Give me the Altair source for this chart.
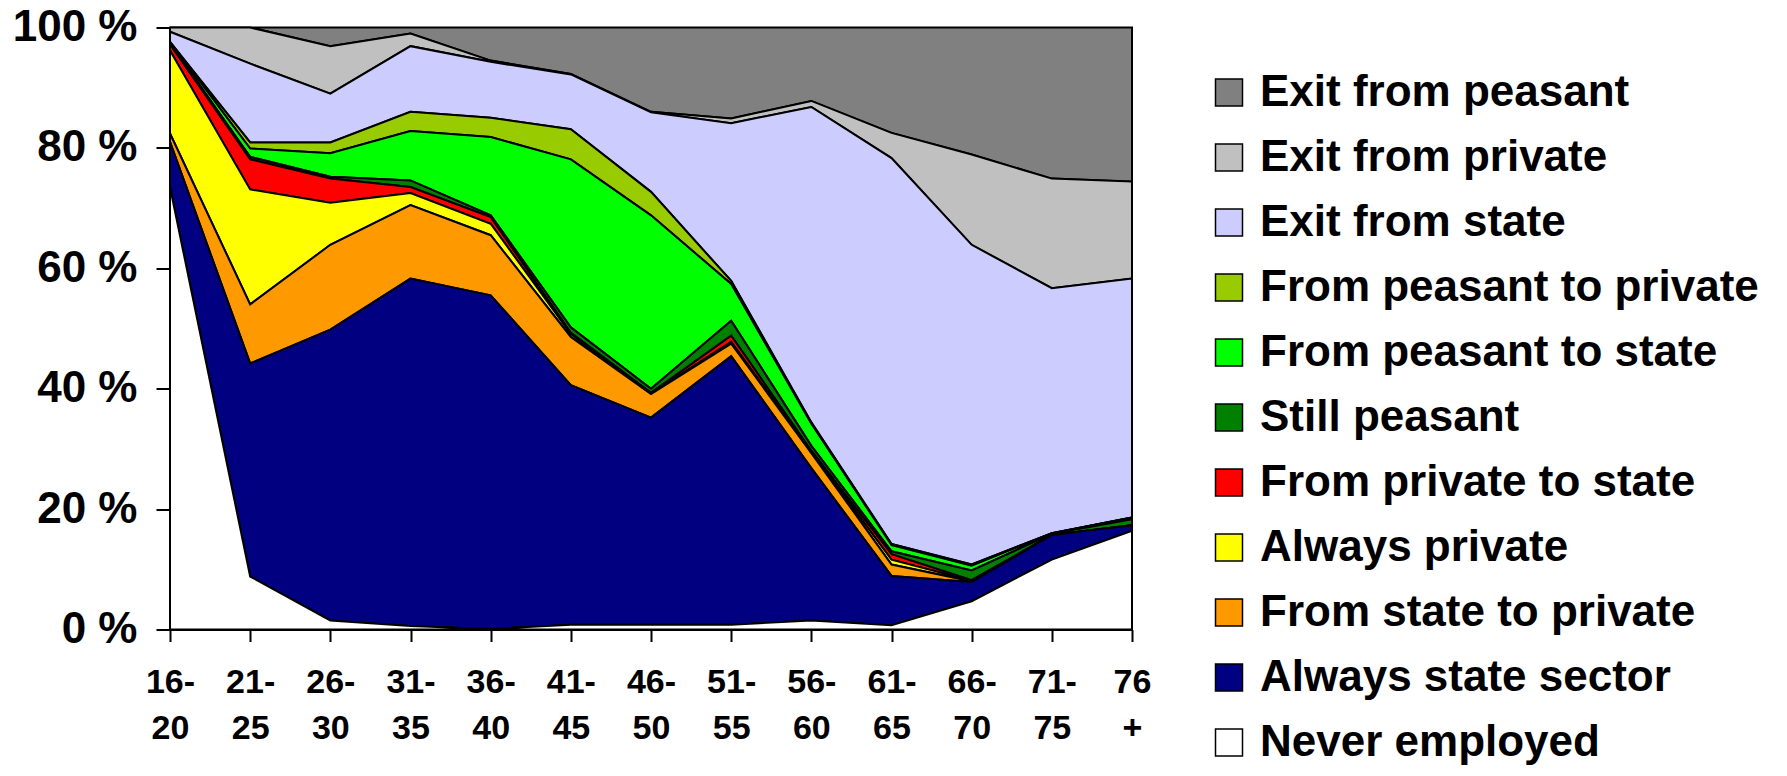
import altair as alt
import pandas as pd

age_groups = ["16-20", "21-25", "26-30", "31-35", "36-40", "41-45", "46-50",
              "51-55", "56-60", "61-65", "66-70", "71-75", "76+"]
label_top = ["16-", "21-", "26-", "31-", "36-", "41-", "46-", "51-", "56-", "61-", "66-", "71-", "76"]
label_bottom = ["20", "25", "30", "35", "40", "45", "50", "55", "60", "65", "70", "75", "+"]

# legend order (top to bottom); stacking is the reverse (bottom to top)
series_names = ["Exit from peasant", "Exit from private", "Exit from state",
                "From peasant to private", "From peasant to state", "Still peasant",
                "From private to state", "Always private", "From state to private",
                "Always state sector", "Never employed"]
series_colors = ["#808080", "#C0C0C0", "#CCCCFF", "#99CC00", "#00FF00", "#008000",
                 "#FF0000", "#FFFF00", "#FF9900", "#000080", "#FFFFFF"]

exit_peasant   = [0.0, 0.0, 3.1, 1.0, 5.5, 7.7, 14.0, 15.1, 12.2, 17.5, 21.1, 25.1, 25.6]
exit_private   = [0.7, 6.0, 7.9, 2.1, 0.2, 0.1, 0.1, 0.8, 1.0, 4.2, 15.0, 18.2, 16.1]
exit_state     = [1.7, 13.1, 8.1, 10.9, 9.3, 9.1, 13.2, 26.2, 52.4, 64.1, 53.1, 40.7, 39.7]
peas_to_priv   = [0.0, 1.0, 1.8, 3.2, 3.2, 5.0, 3.9, 0.5, 0.2, 0.2, 0.2, 0.0, 0.0]
peas_to_state  = [0.2, 1.4, 3.9, 8.2, 13.0, 27.9, 28.8, 6.1, 3.7, 1.0, 0.8, 0.1, 0.3]
still_peasant  = [0.2, 0.4, 0.3, 1.1, 0.3, 0.9, 0.7, 2.5, 0.8, 0.5, 1.6, 0.2, 1.0]
priv_to_state  = [1.0, 5.0, 4.0, 1.0, 1.1, 0.2, 0.1, 1.0, 0.2, 0.9, 0.1, 0.0, 0.0]
always_private = [13.8, 19.1, 7.0, 2.0, 1.9, 0.5, 0.1, 0.3, 0.2, 0.8, 0.1, 0.0, 0.0]
state_to_priv  = [1.4, 9.8, 14.1, 12.2, 10.0, 8.0, 3.9, 2.1, 2.5, 1.9, 0.1, 0.0, 0.0]
always_state   = [7.5, 35.4, 48.3, 57.7, 55.4, 39.8, 34.4, 44.6, 25.3, 8.2, 3.2, 4.1, 0.9]
never_employed = [73.5, 8.8, 1.5, 0.6, 0.1, 0.8, 0.8, 0.8, 1.5, 0.7, 4.7, 11.6, 16.4]

series_values = [exit_peasant, exit_private, exit_state, peas_to_priv, peas_to_state,
                 still_peasant, priv_to_state, always_private, state_to_priv,
                 always_state, never_employed]

rows = []
n = len(series_names)
for s_i, (name, vals) in enumerate(zip(series_names, series_values)):
    for i, v in enumerate(vals):
        rows.append({"idx": i, "age": age_groups[i], "series": name,
                     "value": v, "ord": n - 1 - s_i})
df = pd.DataFrame(rows)

label_js = "[" + ",".join("['%s','%s']" % (t, b) for t, b in zip(label_top, label_bottom)) + "]"
FONT = "Liberation Sans"

chart = alt.Chart(df).mark_area(
    stroke="black", strokeWidth=2, strokeJoin="miter", opacity=1
).encode(
    x=alt.X("idx:Q",
            scale=alt.Scale(domain=[0, len(age_groups) - 1], nice=False, zero=False),
            axis=alt.Axis(values=list(range(len(age_groups))),
                          labelExpr=label_js + "[datum.value]",
                          title=None, grid=False, labelFlush=False, labelOverlap=False,
                          labelFont=FONT, labelFontSize=34, labelFontWeight="bold",
                          labelColor="black", labelLineHeight=46, labelPadding=24,
                          tickSize=12, tickColor="black", tickWidth=2,
                          domainColor="black", domainWidth=2)),
    y=alt.Y("value:Q", stack="normalize",
            scale=alt.Scale(domain=[0, 1], nice=False),
            axis=alt.Axis(values=[0, 0.2, 0.4, 0.6, 0.8, 1.0],
                          labelExpr="round(datum.value*100) + ' %'",
                          title=None, grid=False,
                          labelFont=FONT, labelFontSize=44, labelFontWeight="bold",
                          labelColor="black", labelPadding=19,
                          tickSize=14, tickColor="black", tickWidth=2,
                          domainColor="black", domainWidth=2)),
    color=alt.Color("series:N",
                    scale=alt.Scale(domain=series_names, range=series_colors),
                    title=None,
                    legend=alt.Legend(orient="none", legendX=1037, legendY=43,
                                      symbolType="square", symbolSize=729,
                                      symbolStrokeColor="black", symbolStrokeWidth=1.5,
                                      symbolOpacity=1,
                                      labelFont=FONT, labelFontSize=44,
                                      labelFontWeight="bold", labelColor="black",
                                      labelLimit=1000, labelOffset=9, rowPadding=21)),
    order=alt.Order("ord:Q", sort="ascending"),
).properties(
    width=962, height=602,
    autosize=alt.AutoSizeParams(type="none"),
    padding={"left": 162, "top": 19.5, "right": 640, "bottom": 138.5},
).configure_view(strokeWidth=0).configure(background="white")

chart.save("out.html", embed_options={"renderer": "svg", "actions": False})
